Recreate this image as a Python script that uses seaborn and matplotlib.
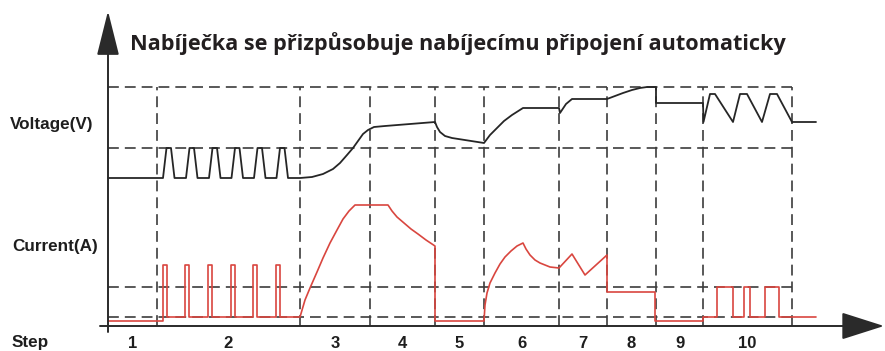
import matplotlib
matplotlib.use("Agg")
import matplotlib.pyplot as plt
import seaborn as sns
import pandas as pd

# Time axis (t) and signal level, both in the same schematic units;
# the origin is where the two axes cross.
step_labels = ["1", "2", "3", "4", "5", "6", "7", "8", "9", "10"]
step_bounds = [0, 49, 192, 262, 327, 376, 451, 499, 548, 595, 684]

voltage_levels = [239, 178]   # dashed voltage reference levels
current_levels = [39, 9]      # dashed current reference levels

voltage_t = [0, 55, 58.5, 63, 66.5,
             78, 81.5, 86, 89.5,
             101, 104.5, 109, 112.5,
             123.5, 127, 131.5, 135,
             146, 149.5, 154, 157.5,
             168.5, 172, 176.5, 180,
             192, 204, 215, 225, 232, 239, 245, 250, 255, 260, 266, 277, 302, 327,
             329, 332, 337, 344, 376,
             382, 389, 396, 404, 415, 451,
             452, 458, 464, 499,
             507, 515, 524, 532, 539, 548, 548, 595,
             595.5, 602, 607, 625, 632, 639, 654, 662, 669, 684, 708]
voltage_v = [148, 148, 178, 178, 148,
             148, 178, 178, 148,
             148, 178, 178, 148,
             148, 178, 178, 148,
             148, 178, 178, 148,
             148, 178, 178, 148,
             148, 149, 152, 157, 163, 171, 178, 185, 192, 196, 199, 200, 202, 204,
             199, 194, 190, 188, 183,
             191, 198, 205, 211, 218, 218,
             213, 222, 227, 227,
             230, 233, 236, 238, 239, 239, 223, 223,
             204, 232, 232, 204, 232, 232, 204, 232, 232, 204, 204]

current_t = [0, 55, 55, 59, 59,
             77, 77, 81, 81,
             100, 100, 104, 104,
             123, 123, 127, 127,
             145, 145, 149, 149,
             168, 168, 172, 172,
             192, 197, 202, 209, 215, 222, 229, 235, 241, 247, 280,
             284, 289, 296, 303, 310, 318, 327, 327, 376,
             377, 379, 382, 387, 392, 397, 403, 409, 415,
             418, 422, 427, 432, 442, 451,
             464, 477, 499, 499, 547, 547, 595, 595,
             609, 609, 625, 625, 636, 636, 642, 642, 657, 657, 671, 671, 708]
current_i = [5, 5, 61, 61, 9,
             9, 61, 61, 9,
             9, 61, 61, 9,
             9, 61, 61, 9,
             9, 61, 61, 9,
             9, 61, 61, 9,
             9, 26, 38, 54, 68, 83, 96, 107, 115, 121, 121,
             115, 109, 103, 97, 92, 86, 80, 5, 5,
             21, 33, 43, 53, 62, 69, 75, 80, 83,
             77, 71, 66, 63, 59, 58,
             72, 51, 71, 34, 34, 5, 5, 9,
             9, 39, 39, 9, 9, 39, 39, 9, 9, 39, 39, 9, 9]

voltage = pd.DataFrame({"t": voltage_t, "level": voltage_v})
current = pd.DataFrame({"t": current_t, "level": current_i})

sns.set_theme(style="white")
plt.rcParams["font.family"] = ["Liberation Sans", "DejaVu Sans"]

fig = plt.figure(figsize=(8.85, 3.51), dpi=100)
ax = fig.add_axes([0, 0, 1, 1])
ax.set_xlim(-108, 777)
ax.set_ylim(-25, 326)
ax.axis("off")

grid_kw = dict(colors="#3c3c3c", linewidth=1.2, linestyles=(0, (6.5, 3.6)), zorder=1)
# dashed reference levels
ax.hlines(voltage_levels + current_levels, step_bounds[0], step_bounds[-1], **grid_kw)
# dashed step boundaries
ax.vlines(step_bounds[1:], 0, voltage_levels[0], **grid_kw)

sns.lineplot(data=voltage, x="t", y="level", sort=False, estimator=None,
             color="#262626", linewidth=1.3, ax=ax, zorder=3)
sns.lineplot(data=current, x="t", y="level", sort=False, estimator=None,
             color="#d9463f", linewidth=1.2, ax=ax, zorder=3)

# axes with arrow heads
axis_color = "#2a2a2a"
ax.annotate("", xy=(0, 315), xytext=(0, -6),
            arrowprops=dict(arrowstyle="-|>,head_length=28,head_width=7.0",
                            mutation_scale=1, lw=1.4, color=axis_color,
                            shrinkA=0, shrinkB=0), zorder=4)
ax.annotate("", xy=(776, 0), xytext=(-8, 0),
            arrowprops=dict(arrowstyle="-|>,head_length=27,head_width=8.6",
                            mutation_scale=1, lw=1.4, color=axis_color,
                            shrinkA=0, shrinkB=0), zorder=4)

# row labels
lab_kw = dict(fontsize=12.3, fontweight="bold", color="#1e1e1e", ha="left", va="center")
ax.text(-98, 201, "Voltage(V)", **lab_kw)
ax.text(-96, 80, "Current(A)", **lab_kw)
ax.text(-96, -17, "Step", **lab_kw)

for lab, a, b in zip(step_labels, step_bounds[:-1], step_bounds[1:]):
    ax.text((a + b) / 2, -17, lab, fontsize=12, fontweight="bold",
            color="#1e1e1e", ha="center", va="center")

ax.text(22, 276, "Nabíječka se přizpůsobuje nabíjecímu připojení automaticky",
        fontsize=15.6, fontweight="bold", color="#231f20", ha="left",
        va="baseline", family=["Open Sans", "DejaVu Sans"])

fig.savefig("out.png", dpi=100)
